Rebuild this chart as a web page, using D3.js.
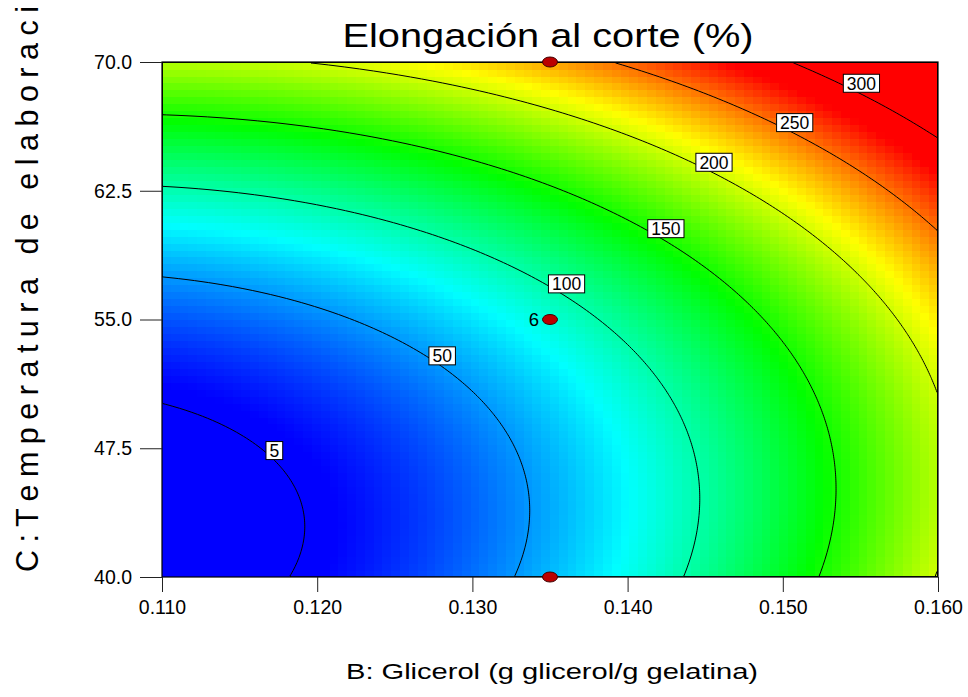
<!DOCTYPE html>
<html>
<head>
<meta charset="utf-8">
<script src="https://cdn.jsdelivr.net/npm/d3@7"></script>
<style>
  body { margin: 0; background: #fff; }
  text { font-family: Arial, "Liberation Sans", sans-serif; fill: #000; }
</style>
</head>
<body>
<div id="chart"></div>
<script>
// factor ranges (actual units) and tick labels
const glicerolRange = [0.110, 0.160];
const tempRange = [40.0, 70.0];
const xTicks = [0.110, 0.120, 0.130, 0.140, 0.150, 0.160];
const yTicks = [40.0, 47.5, 55.0, 62.5, 70.0];

// fitted quadratic model, coded units (terms: 1, B, C, BC, B^2, C^2)
const modelTerms = ["Intercept", "B", "C", "BC", "B^2", "C^2"];
const modelCoefs = [87.8, 92.7, 88.4, -12.8, 36.5, 60.0];

// contour levels and the glycerol value where each label box starts
const contourLevels = [5, 50, 100, 150, 200, 250, 300];
const labelGlicerol = [0.1167, 0.1272, 0.1349, 0.1413, 0.1444, 0.1496, 0.1539];

// colour ramp of the response
const colorValues = [10, 77.5, 145, 212.5, 280];
const colorList = ["#0000ff", "#00ffff", "#00ff00", "#ffff00", "#ff0000"];

// design points
const designB = [0.135, 0.135, 0.135];
const designC = [70.0, 55.0, 40.0];
const designCount = ["", "6", ""];

const svgWidth = 968;
const svgHeight = 697;
const margin = { top: 62, right: 30, bottom: 120, left: 162 };
const chartWidth = svgWidth - margin.left - margin.right;
const chartHeight = svgHeight - margin.top - margin.bottom;

const bMid = (glicerolRange[0] + glicerolRange[1]) / 2, bHalf = (glicerolRange[1] - glicerolRange[0]) / 2;
const cMid = (tempRange[0] + tempRange[1]) / 2, cHalf = (tempRange[1] - tempRange[0]) / 2;

function predict(b, c) {
  const u = (b - bMid) / bHalf, v = (c - cMid) / cHalf;
  const k = modelCoefs;
  return k[0] + k[1] * u + k[2] * v + k[3] * u * v + k[4] * u * u + k[5] * v * v;
}

// upper branch of a contour level on a vertical line B = b
function contourTemp(level, b) {
  const u = (b - bMid) / bHalf, k = modelCoefs;
  const A = k[5], Bq = k[2] + k[3] * u, Cq = k[0] + k[1] * u + k[4] * u * u - level;
  const v = (-Bq + Math.sqrt(Bq * Bq - 4 * A * Cq)) / (2 * A);
  return cMid + v * cHalf;
}

const svg = d3.select("#chart").append("svg")
  .attr("width", svgWidth)
  .attr("height", svgHeight);

const chartGroup = svg.append("g")
  .attr("transform", `translate(${margin.left}, ${margin.top})`);

const x = d3.scaleLinear().domain(glicerolRange).range([0, chartWidth]);
const y = d3.scaleLinear().domain(tempRange).range([chartHeight, 0]);
const color = d3.scaleLinear().domain(colorValues).range(colorList).clamp(true);

chartGroup.append("clipPath").attr("id", "plotClip")
  .append("rect").attr("width", chartWidth).attr("height", chartHeight);

// colour field, drawn as blocks like the original
const nCols = 88, nRows = 74;
const dB = (glicerolRange[1] - glicerolRange[0]) / nCols;
const dC = (tempRange[1] - tempRange[0]) / nRows;
const cells = d3.cross(d3.range(nCols), d3.range(nRows));

chartGroup.append("g")
  .attr("clip-path", "url(#plotClip)")
  .attr("shape-rendering", "crispEdges")
  .selectAll("rect")
  .data(cells)
  .enter()
  .append("rect")
  .attr("x", d => x(glicerolRange[0] + d[0] * dB))
  .attr("y", d => y(tempRange[0] + (d[1] + 1) * dC))
  .attr("width", x(glicerolRange[0] + dB) - x(glicerolRange[0]) + 0.6)
  .attr("height", y(tempRange[0]) - y(tempRange[0] + dC) + 0.6)
  .attr("fill", d => color(predict(glicerolRange[0] + (d[0] + 0.5) * dB, tempRange[0] + (d[1] + 0.5) * dC)));

// contour lines
const gx = 388, gy = 258;
const gB = (glicerolRange[1] - glicerolRange[0]) / gx;
const gC = (tempRange[1] - tempRange[0]) / gy;
const grid = new Array(gx * gy);
for (let j = 0; j < gy; j++) {
  for (let i = 0; i < gx; i++) {
    grid[j * gx + i] = predict(glicerolRange[0] + (i + 0.5) * gB, tempRange[1] - (j + 0.5) * gC);
  }
}
const contours = d3.contours().size([gx, gy]).thresholds(contourLevels)(grid);
const gridToPx = d3.geoTransform({
  point: function (px, py) {
    this.stream.point(x(glicerolRange[0] + px * gB), y(tempRange[1] - py * gC));
  }
});

chartGroup.append("g")
  .attr("clip-path", "url(#plotClip)")
  .selectAll("path")
  .data(contours)
  .enter()
  .append("path")
  .attr("d", d3.geoPath(gridToPx))
  .attr("fill", "none")
  .attr("stroke", "#000")
  .attr("stroke-width", 1);

// contour labels, box starts on the line
const labels = chartGroup.append("g").selectAll("g")
  .data(contourLevels.map((lv, i) => ({ level: lv, b: labelGlicerol[i] })))
  .enter()
  .append("g")
  .attr("transform", d => `translate(${x(d.b)}, ${y(contourTemp(d.level, d.b)) - 2})`);

labels.append("rect");
labels.append("text")
  .attr("text-anchor", "middle")
  .attr("dy", "0.36em")
  .style("font-size", "17.5px")
  .text(d => d.level);

labels.each(function () {
  const g = d3.select(this);
  const w = g.select("text").node().getComputedTextLength() + 7;
  g.select("text").attr("x", w / 2);
  g.select("rect")
    .attr("x", 0).attr("y", -9)
    .attr("width", w).attr("height", 18)
    .attr("fill", "#fff")
    .attr("stroke", "#000")
    .attr("stroke-width", 1);
});

// frame
chartGroup.append("rect")
  .attr("width", chartWidth)
  .attr("height", chartHeight)
  .attr("fill", "none")
  .attr("stroke", "#000")
  .attr("stroke-width", 1.2);

// design points
const points = designB.map((b, i) => ({ b: b, c: designC[i], n: designCount[i] }));

chartGroup.selectAll("ellipse")
  .data(points)
  .enter()
  .append("ellipse")
  .attr("cx", d => x(d.b))
  .attr("cy", d => y(d.c))
  .attr("rx", 7.5)
  .attr("ry", 5)
  .attr("fill", "#bb0000")
  .attr("stroke", "#400000")
  .attr("stroke-width", 1);

chartGroup.selectAll(".count")
  .data(points.filter(d => d.n !== ""))
  .enter()
  .append("text")
  .attr("class", "count")
  .attr("x", d => x(d.b) - 11)
  .attr("y", d => y(d.c))
  .attr("dy", "0.36em")
  .attr("text-anchor", "end")
  .style("font-size", "18.5px")
  .text(d => d.n);

// axes
const bottomAxis = d3.axisBottom(x).tickValues(xTicks).tickFormat(d3.format(".3f")).tickSize(15).tickPadding(8);
const leftAxis = d3.axisLeft(y).tickValues(yTicks).tickFormat(d3.format(".1f")).tickSize(22).tickPadding(8);

const xAxisG = chartGroup.append("g")
  .attr("transform", `translate(0, ${chartHeight})`)
  .call(bottomAxis);
const yAxisG = chartGroup.append("g")
  .call(leftAxis);

[xAxisG, yAxisG].forEach(g => {
  g.select(".domain").remove();
  g.selectAll("line").attr("stroke", "#222");
  g.selectAll("text").style("font-size", "19.5px").attr("fill", "#000");
});

// titles
svg.append("text")
  .attr("x", margin.left + chartWidth / 2 - 2)
  .attr("y", 47)
  .attr("text-anchor", "middle")
  .attr("textLength", 411)
  .attr("lengthAdjust", "spacingAndGlyphs")
  .style("font-size", "33px")
  .text("Elongación al corte (%)");

svg.append("text")
  .attr("x", 552)
  .attr("y", 679)
  .attr("text-anchor", "middle")
  .attr("textLength", 412)
  .attr("lengthAdjust", "spacingAndGlyphs")
  .style("font-size", "21.5px")
  .text("B: Glicerol (g glicerol/g gelatina)");

svg.append("text")
  .attr("transform", "translate(38, 572) rotate(-90)")
  .attr("text-anchor", "start")
  .attr("textLength", 566)
  .attr("lengthAdjust", "spacing")
  .style("font-size", "30.5px")
  .style("white-space", "pre")
  .text("C : T e m p e r a t u r a   d e   e l a b o r a c i");
</script>
</body>
</html>
